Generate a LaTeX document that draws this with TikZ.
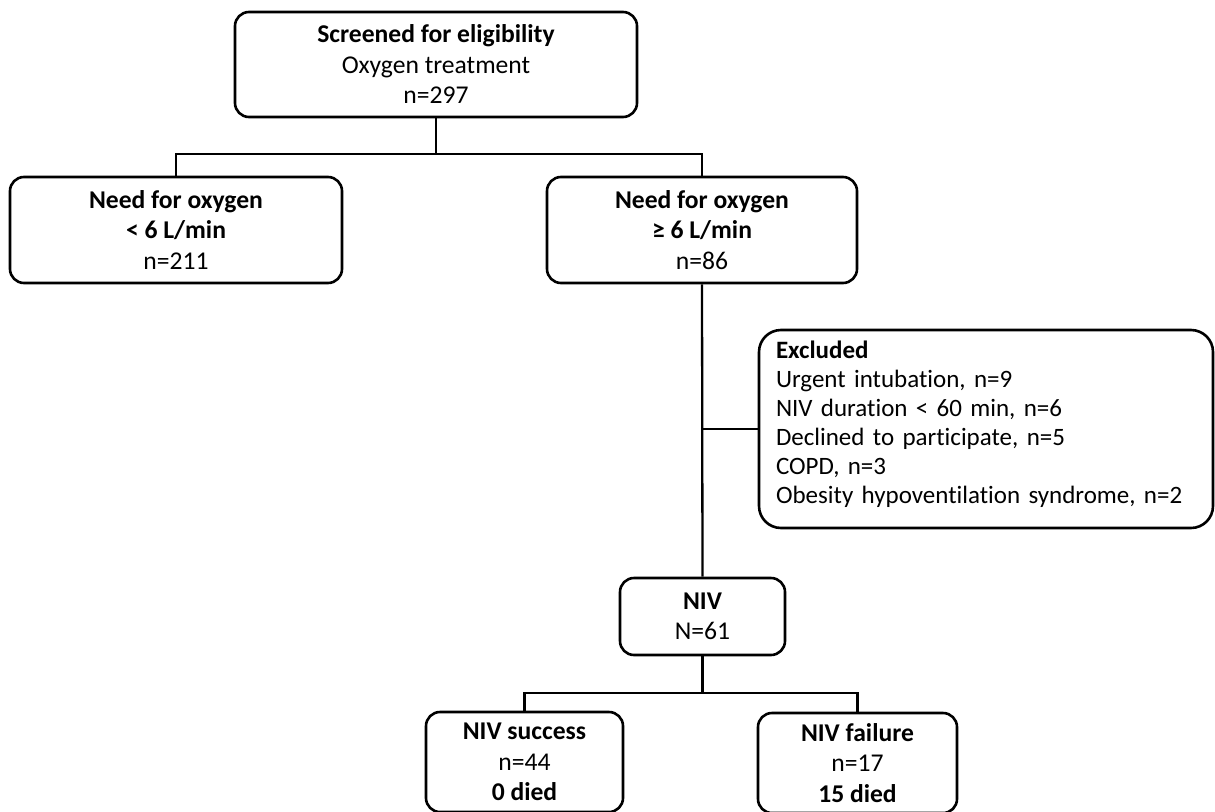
\documentclass[tikz,border=0pt]{standalone}
\usepackage{fontspec}
\setmainfont[RawFeature=-liga]{Carlito}
\begin{document}
\begin{tikzpicture}[x=1pt,y=-1pt,
  box/.style={draw=black, line width=2.6pt, rounded corners=14pt, align=center, inner sep=0pt,
    font=\fontsize{25.6}{30.5}\selectfont},
  link/.style={draw=black, line width=2.3pt}]
\useasboundingbox (0,0) rectangle (1215,811);
\clip (0,0) rectangle (1215,811);
\fill[white] (0,0) rectangle (1215,811);

\node[box, minimum width=402pt, minimum height=105pt] (top) at (436,64.5)
  {\textbf{Screened for eligibility}\\Oxygen treatment\\n=297};
\node[box, minimum width=332pt, minimum height=106pt] (low) at (176,230)
  {\textbf{Need for oxygen}\\\textbf{< 6 L/min}\\n=211};
\node[box, minimum width=310pt, minimum height=106pt] (high) at (702,230)
  {\textbf{Need for oxygen}\\\textbf{≥ 6 L/min}\\n=86};
\node[box, rounded corners=22pt, minimum width=454pt, minimum height=198pt, align=left,
  text width=420pt, font=\fontsize{25}{29}\selectfont] (excl) at (986,429)
  {\textbf{Excluded}\\Urgent intubation, n=9\\NIV duration < 60 min, n=6\\Declined to participate, n=5\\COPD, n=3\\Obesity hypoventilation syndrome, n=2\vphantom{)}\\[-16pt]\mbox{}};
\node[box, minimum width=165pt, minimum height=77pt] (niv) at (702.5,616.5)
  {\textbf{NIV}\\N=61};
\node[box, minimum width=197pt, minimum height=100pt] (succ) at (524.5,762)
  {\textbf{NIV success}\\n=44\\\textbf{0 died}};
\node[box, minimum width=199pt, minimum height=100pt] (fail) at (857.5,763)
  {\textbf{NIV failure}\\n=17\\\textbf{15 died}};

\coordinate (j1) at (436,154);
\coordinate (j2) at (702.5,693);
\draw[link] (top.south) -- (j1);
\draw[link] (j1) -| (low.north);
\draw[link] (j1) -| (high.north);
\draw[link] (high.south) -- (niv.north);
\draw[link] (high.south |- excl.west) -- (excl.west);
\draw[link] (niv.south) -- (j2);
\draw[link] (j2) -| (succ.north);
\draw[link] (j2) -| (fail.north);
\end{tikzpicture}
\end{document}
